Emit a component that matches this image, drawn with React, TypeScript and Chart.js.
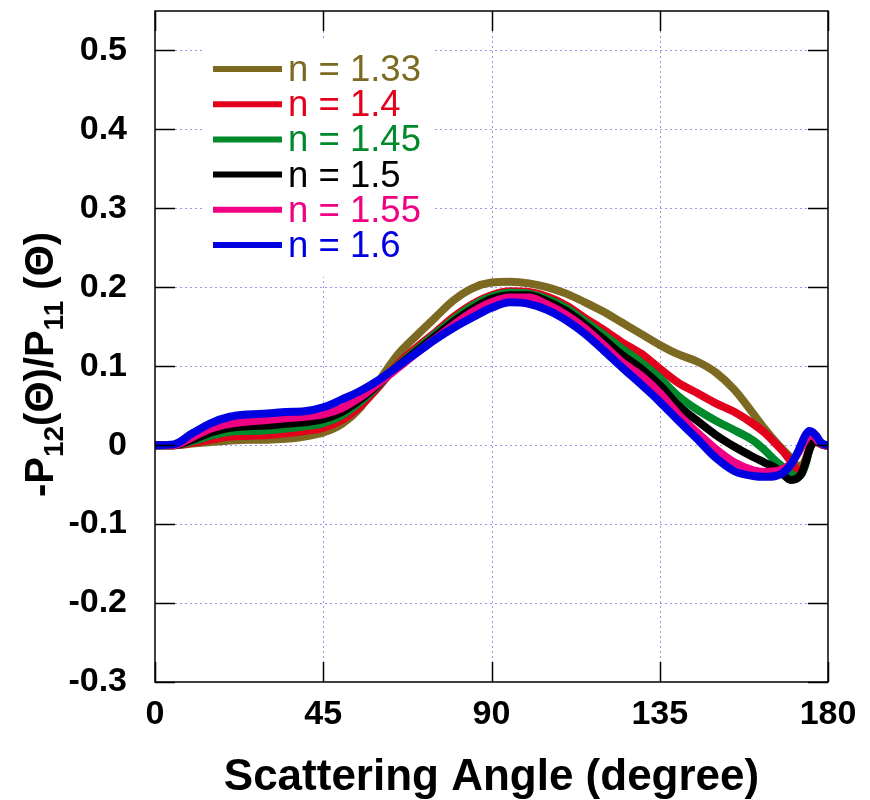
import React, { useEffect, useRef } from "react";
import { Chart, registerables } from "chart.js";

Chart.register(...registerables);

// Scattering angle (degree)
const angles = [0, 5, 10, 15, 20, 25, 30, 35, 40, 45, 50, 55, 60, 65, 70, 75, 80, 85, 90, 95, 100, 105, 110, 115, 120, 125, 130, 135, 140, 145, 150, 155, 160, 163, 166, 168, 170, 172, 173, 174, 175, 176, 177, 178, 179, 180];

const n133 = [0, 0, 0.002, 0.004, 0.006, 0.007, 0.007, 0.008, 0.011, 0.016, 0.027, 0.048, 0.082, 0.115, 0.139, 0.162, 0.184, 0.199, 0.206, 0.207, 0.205, 0.2, 0.192, 0.181, 0.169, 0.155, 0.141, 0.127, 0.115, 0.106, 0.092, 0.07, 0.04, 0.021, 0.004, -0.006, -0.016, -0.026, -0.026, -0.018, -0.005, 0.004, 0.005, 0.002, 0, 0];
const n140 = [0, 0, 0.003, 0.007, 0.011, 0.012, 0.013, 0.015, 0.018, 0.022, 0.032, 0.05, 0.075, 0.103, 0.124, 0.143, 0.163, 0.179, 0.19, 0.195, 0.194, 0.188, 0.177, 0.161, 0.146, 0.13, 0.116, 0.097, 0.079, 0.066, 0.053, 0.042, 0.027, 0.016, 0.002, -0.008, -0.02, -0.032, -0.033, -0.022, -0.006, 0.004, 0.005, 0.002, 0, 0];
const n145 = [0, 0, 0.005, 0.012, 0.017, 0.018, 0.019, 0.021, 0.024, 0.028, 0.038, 0.055, 0.077, 0.101, 0.121, 0.141, 0.16, 0.177, 0.188, 0.193, 0.192, 0.185, 0.174, 0.157, 0.14, 0.122, 0.105, 0.085, 0.062, 0.045, 0.031, 0.019, 0.006, -0.006, -0.02, -0.028, -0.036, -0.04, -0.036, -0.024, -0.006, 0.005, 0.006, 0.002, 0, 0];
const n150 = [0, 0, 0.007, 0.016, 0.022, 0.024, 0.025, 0.027, 0.029, 0.033, 0.042, 0.058, 0.078, 0.1, 0.119, 0.138, 0.157, 0.173, 0.185, 0.19, 0.19, 0.182, 0.17, 0.153, 0.134, 0.114, 0.097, 0.076, 0.05, 0.031, 0.013, -0.002, -0.015, -0.022, -0.029, -0.037, -0.044, -0.041, -0.035, -0.022, -0.006, 0.004, 0.006, 0.002, 0, 0];
const n155 = [0, 0, 0.01, 0.021, 0.027, 0.03, 0.032, 0.034, 0.036, 0.039, 0.047, 0.061, 0.079, 0.098, 0.117, 0.135, 0.153, 0.169, 0.181, 0.187, 0.187, 0.178, 0.165, 0.148, 0.127, 0.105, 0.088, 0.066, 0.039, 0.016, -0.005, -0.022, -0.032, -0.034, -0.033, -0.03, -0.024, -0.01, -0.001, 0.007, 0.012, 0.012, 0.007, 0.002, 0, 0];
const n160 = [0, 0.001, 0.015, 0.028, 0.036, 0.039, 0.04, 0.042, 0.043, 0.048, 0.058, 0.069, 0.083, 0.1, 0.117, 0.134, 0.149, 0.162, 0.174, 0.181, 0.179, 0.171, 0.158, 0.141, 0.12, 0.098, 0.077, 0.055, 0.031, 0.008, -0.016, -0.033, -0.039, -0.04, -0.039, -0.035, -0.025, -0.008, 0.003, 0.013, 0.018, 0.016, 0.011, 0.004, 0.001, 0];

const seriesValues = [n133, n140, n145, n150, n155, n160];
const seriesLabels = ["n = 1.33", "n = 1.4", "n = 1.45", "n = 1.5", "n = 1.55", "n = 1.6"];
const seriesColors = ["#7d6a22", "#e2001c", "#008a2c", "#000000", "#f00082", "#0000e0"];

const xTickValues = [0, 45, 90, 135, 180];
const yTickValues = [-0.3, -0.2, -0.1, 0, 0.1, 0.2, 0.3, 0.4, 0.5];

const xTitle = "Scattering Angle (degree)";
const FAMILY = '"Liberation Sans", Arial, Helvetica, sans-serif';

const decor = {
  id: "decor",
  beforeDatasetsDraw(chart: any) {
    const { ctx, chartArea: a, scales } = chart;
    const x = scales.x, y = scales.y;
    ctx.save();
    ctx.strokeStyle = "#9a9ae6";
    ctx.lineWidth = 1;
    ctx.setLineDash([2, 3]);
    y.ticks.forEach((t: any) => {
      const py = Math.round(y.getPixelForValue(t.value)) + 0.5;
      if (py < a.bottom - 1 && py > a.top + 1) {
        ctx.beginPath();
        ctx.moveTo(a.left, py);
        ctx.lineTo(a.right, py);
        ctx.stroke();
      }
    });
    x.ticks.forEach((t: any) => {
      const px = Math.round(x.getPixelForValue(t.value)) + 0.5;
      if (px > a.left + 1 && px < a.right - 1) {
        ctx.beginPath();
        ctx.moveTo(px, a.top);
        ctx.lineTo(px, a.bottom);
        ctx.stroke();
      }
    });
    ctx.setLineDash([]);
    // legend background
    ctx.fillStyle = "#ffffff";
    ctx.fillRect(a.left + 47, a.top + 27, 231, 239);
    ctx.restore();
  },
  afterDatasetsDraw(chart: any) {
    const { ctx, chartArea: a, scales } = chart;
    const x = scales.x, y = scales.y;
    ctx.save();
    ctx.strokeStyle = "#000";
    ctx.lineWidth = 1.5;
    ctx.strokeRect(a.left, a.top, a.right - a.left, a.bottom - a.top);
    const tl = 20;
    y.ticks.forEach((t: any) => {
      const py = Math.round(y.getPixelForValue(t.value)) + 0.5;
      ctx.beginPath();
      ctx.moveTo(a.left, py);
      ctx.lineTo(a.left + tl, py);
      ctx.moveTo(a.right, py);
      ctx.lineTo(a.right - tl, py);
      ctx.stroke();
    });
    x.ticks.forEach((t: any) => {
      const px = Math.round(x.getPixelForValue(t.value)) + 0.5;
      ctx.beginPath();
      ctx.moveTo(px, a.bottom);
      ctx.lineTo(px, a.bottom - tl);
      ctx.moveTo(px, a.top);
      ctx.lineTo(px, a.top + tl);
      ctx.stroke();
    });
    // legend
    const lx0 = a.left + 58, lx1 = a.left + 127, tx = a.left + 133;
    ctx.font = `36.5px ${FAMILY}`;
    ctx.textBaseline = "middle";
    ctx.textAlign = "left";
    chart.data.datasets.forEach((ds: any, i: number) => {
      const cy = a.top + 58 + i * 35.2;
      ctx.strokeStyle = ds.borderColor;
      ctx.lineWidth = 6;
      ctx.beginPath();
      ctx.moveTo(lx0, cy);
      ctx.lineTo(lx1, cy);
      ctx.stroke();
      ctx.fillStyle = ds.borderColor;
      ctx.fillText(ds.label, tx, cy + 2);
    });
    ctx.restore();
  },
  afterDraw(chart: any) {
    const { ctx, chartArea: a } = chart;
    ctx.save();
    ctx.fillStyle = "#000";
    // x title
    ctx.font = `bold 44px ${FAMILY}`;
    ctx.textAlign = "center";
    ctx.textBaseline = "alphabetic";
    ctx.fillText(xTitle, (a.left + a.right) / 2, 782);
    // y title with subscripts
    const main = `bold 40px ${FAMILY}`;
    const sub = `bold 28px ${FAMILY}`;
    const segs = [
      { t: "-P", f: main, dy: 0 },
      { t: "12", f: sub, dy: 10 },
      { t: "(\u0398)/P", f: main, dy: 0 },
      { t: "11", f: sub, dy: 10 },
      { t: " (\u0398)", f: main, dy: 0 },
    ];
    let total = 0;
    const widths = segs.map((s) => {
      ctx.font = s.f;
      const w = ctx.measureText(s.t).width;
      total += w;
      return w;
    });
    ctx.translate(31, (a.top + a.bottom) / 2 + 18);
    ctx.rotate(-Math.PI / 2);
    ctx.textAlign = "left";
    let cx = -total / 2;
    segs.forEach((s, i) => {
      ctx.font = s.f;
      ctx.fillText(s.t, cx, 14 + s.dy);
      cx += widths[i];
    });
    ctx.restore();
  },
};

export default function App() {
  const ref = useRef<HTMLCanvasElement | null>(null);
  useEffect(() => {
    if (!ref.current) return;
    const chart = new Chart(ref.current, {
      type: "line",
      data: {
        datasets: seriesValues.map((vals, i) => ({
          label: seriesLabels[i],
          data: angles.map((a, j) => ({ x: a, y: vals[j] })),
          borderColor: seriesColors[i],
          backgroundColor: seriesColors[i],
          borderWidth: 8,
          pointRadius: 0,
          fill: false,
          cubicInterpolationMode: "monotone",
          borderCapStyle: "round",
          borderJoinStyle: "round",
          order: seriesValues.length - i,
        })),
      },
      options: {
        animation: false,
        responsive: false,
        maintainAspectRatio: false,
        layout: { padding: { left: 0, top: 3, right: 34, bottom: 0 } },
        plugins: { legend: { display: false }, tooltip: { enabled: false } },
        scales: {
          x: {
            type: "linear",
            min: 0,
            max: 180,
            grid: { display: false, drawTicks: false },
            border: { display: false },
            afterBuildTicks: (s: any) => {
              s.ticks = xTickValues.map((v) => ({ value: v }));
            },
            ticks: {
              padding: 12,
              maxRotation: 0,
              color: "#000",
              font: { family: FAMILY, size: 34, weight: "bold" },
            },
            afterFit: (s: any) => {
              s.height = 118;
              s.paddingLeft = 0;
              s.paddingRight = 0;
            },
          },
          y: {
            type: "linear",
            min: -0.3,
            max: 0.55,
            grid: { display: false, drawTicks: false },
            border: { display: false },
            afterBuildTicks: (s: any) => {
              s.ticks = yTickValues.map((v) => ({ value: v }));
            },
            ticks: {
              padding: 28,
              color: "#000",
              font: { family: FAMILY, size: 34, weight: "bold" },
              callback: (v: any) => {
                const r = Math.round(Number(v) * 10) / 10;
                return r === 0 ? "0" : String(r);
              },
            },
            afterFit: (s: any) => {
              s.width = 147;
              s.paddingTop = 0;
              s.paddingBottom = 0;
            },
          },
        },
      },
      plugins: [decor],
    } as any);
    return () => chart.destroy();
  }, []);
  return (
    <div style={{ width: 854, height: 792 }}>
      <canvas ref={ref} width={854} height={792} style={{ display: "block" }} />
    </div>
  );
}
